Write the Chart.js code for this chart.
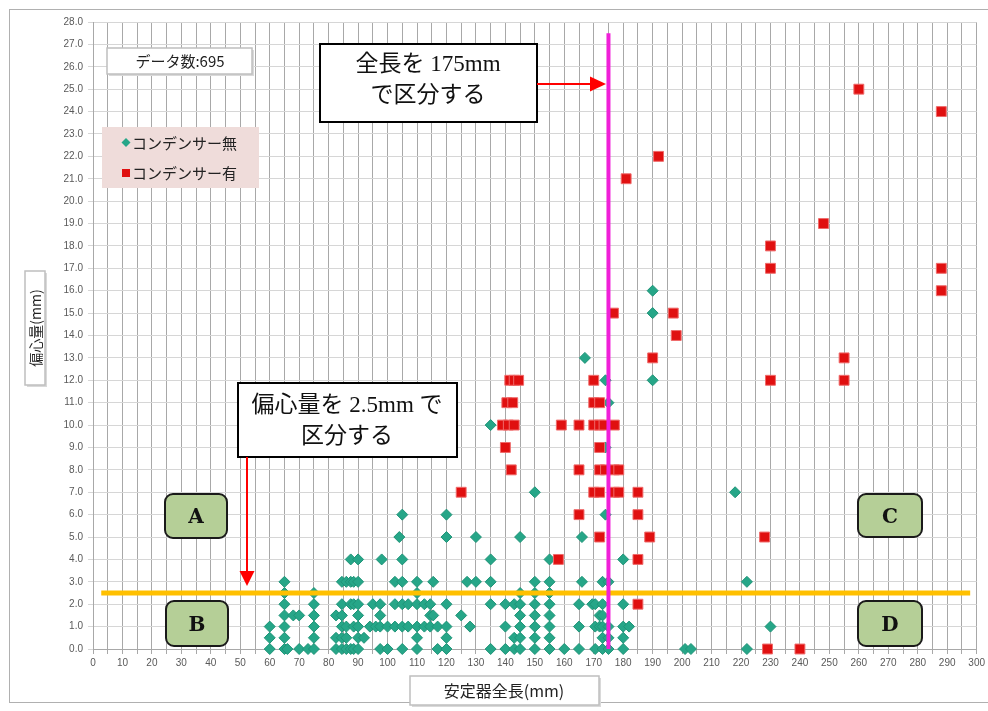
<!DOCTYPE html>
<html>
<head>
<meta charset="utf-8">
<script src="https://cdn.jsdelivr.net/npm/chart.js@4/dist/chart.umd.min.js"></script>
<style>
  body { margin: 0; background: #fff; }
  canvas { display: block; }
</style>
</head>
<body>
<canvas id="chart" width="988" height="711"></canvas>
<script>
// series names
const seriesNames = ['コンデンサー無', 'コンデンサー有'];

// [全長(mm), [偏心量(mm), ...]], column by column
const noCondenser = [
	[60, [0, 0.5, 1]],
	[65, [0, 0.5, 1, 1.5, 2, 2.5, 3]],
	[66, [0]],
	[68, [1.5]],
	[70, [0, 1.5]],
	[73, [0]],
	[75, [0, 0.5, 1, 1.5, 2, 2.5]],
	[82.5, [0, 0.5, 1.5]],
	[84.5, [0, 0.5, 1, 1.5, 2, 3]],
	[86, [0, 0.5, 1, 3]],
	[87.5, [0, 2, 3, 4]],
	[88.5, [0, 1, 2, 3]],
	[90, [0, 0.5, 1, 1.5, 2, 3, 4]],
	[92, [0.5]],
	[94, [1]],
	[95, [2]],
	[96, [1]],
	[97.5, [0, 1, 1.5, 2]],
	[98, [4]],
	[100, [0, 1]],
	[102.5, [1, 2, 3]],
	[104, [5]],
	[105, [0, 1, 2, 3, 4, 6]],
	[107, [1, 2]],
	[110, [0, 0.5, 1, 2, 2.5, 3]],
	[112.5, [1, 2]],
	[114.5, [1, 1.5, 2]],
	[115.5, [1.5, 3]],
	[117, [0, 1]],
	[120, [0, 0.5, 1, 2, 5, 6]],
	[125, [1.5]],
	[127, [3]],
	[128, [1]],
	[130, [3, 5]],
	[135, [0, 2, 3, 4, 10]],
	[140, [0, 1, 2]],
	[143, [0, 0.5, 2]],
	[145, [0, 0.5, 1, 1.5, 2, 2.5, 5]],
	[150, [0, 0.5, 1, 1.5, 2, 2.5, 3, 7]],
	[155, [0, 0.5, 1, 1.5, 2, 2.5, 3, 4]],
	[160, [0]],
	[165, [0, 1, 2]],
	[166, [3, 5]],
	[167, [13]],
	[169.5, [2]],
	[170.5, [0, 1, 2]],
	[172, [1, 1.5]],
	[173, [0, 0.5, 1, 1.5, 2, 3]],
	[174, [6, 9, 12]],
	[175, [0, 0.5, 1, 3, 11]],
	[180, [0, 0.5, 1, 2, 4]],
	[182, [1]],
	[190, [12, 15, 16]],
	[201, [0]],
	[203, [0]],
	[218, [7]],
	[222, [0, 3]],
	[230, [1]],
];

const withCondenser = [
	[125, [7]],
	[139, [10]],
	[140, [9]],
	[140.5, [11]],
	[141, [10]],
	[141.5, [12]],
	[142, [8]],
	[142.5, [11]],
	[143, [10, 12]],
	[144.5, [12]],
	[158, [4]],
	[159, [10]],
	[165, [6, 8, 10]],
	[170, [7, 10, 11, 12]],
	[172, [5, 7, 8, 9, 10, 11]],
	[173.5, [10]],
	[174, [8]],
	[176.7, [15]],
	[177, [7, 8, 10]],
	[178.5, [7, 8]],
	[181, [21]],
	[185, [2, 4, 6, 7]],
	[189, [5]],
	[190, [13]],
	[192, [22]],
	[197, [15]],
	[198, [14]],
	[228, [5]],
	[229, [0]],
	[230, [12, 17, 18]],
	[240, [0]],
	[248, [19]],
	[255, [12, 13]],
	[260, [25]],
	[288, [16, 17, 24]],
];

// split lines
const splitLength = 175;          // 全長
const splitLengthTop = 27.5;
const splitOffset = 2.5;          // 偏心量
const splitOffsetRange = [2.8, 297.8];

const dataCount = 695;

const TEAL = '#26a688';
const RED = '#e01010';

function flatten(cols) {
	const out = [];
	cols.forEach(c => c[1].forEach(y => out.push({x: c[0], y: y})));
	return out;
}

function arrow(ctx, x1, y1, x2, y2, head, half) {
	const a = Math.atan2(y2 - y1, x2 - x1);
	const bx = x2 - head * Math.cos(a), by = y2 - head * Math.sin(a);
	ctx.strokeStyle = '#ff0000';
	ctx.fillStyle = '#ff0000';
	ctx.lineWidth = 2;
	ctx.beginPath();
	ctx.moveTo(x1, y1);
	ctx.lineTo(bx, by);
	ctx.stroke();
	ctx.beginPath();
	ctx.moveTo(x2, y2);
	ctx.lineTo(bx + half * Math.sin(a), by - half * Math.cos(a));
	ctx.lineTo(bx - half * Math.sin(a), by + half * Math.cos(a));
	ctx.closePath();
	ctx.fill();
}

function noteBox(ctx, x, y, w, h, lines, cx, ys) {
	ctx.fillStyle = '#fff';
	ctx.fillRect(x, y, w, h);
	ctx.strokeStyle = '#000';
	ctx.lineWidth = 2;
	ctx.strokeRect(x, y, w, h);
	ctx.fillStyle = '#111';
	ctx.font = '23px "Liberation Serif", "Noto Sans CJK JP", serif';
	ctx.textAlign = 'center';
	ctx.textBaseline = 'middle';
	lines.forEach((t, i) => ctx.fillText(t, cx, ys[i]));
}

function zoneBox(ctx, x, y, w, h, letter) {
	ctx.beginPath();
	ctx.roundRect(x, y, w, h, 8);
	ctx.fillStyle = '#b5cf97';
	ctx.fill();
	ctx.strokeStyle = '#1a1a1a';
	ctx.lineWidth = 2;
	ctx.stroke();
	ctx.fillStyle = '#111';
	ctx.font = 'bold 20px "DejaVu Serif", serif';
	ctx.textAlign = 'center';
	ctx.textBaseline = 'middle';
	ctx.fillText(letter, x + w / 2, y + h / 2 + 2);
}

function greyBox(ctx, x, y, w, h) {
	ctx.fillStyle = '#d9d9d9';
	ctx.fillRect(x + 2, y + 2, w, h);
	ctx.fillStyle = '#fff';
	ctx.fillRect(x, y, w, h);
	ctx.strokeStyle = '#bfbfbf';
	ctx.lineWidth = 1.5;
	ctx.strokeRect(x, y, w, h);
}

const decor = {
	id: 'decor',
	beforeDraw(chart) {
		const ctx = chart.ctx;
		ctx.save();
		ctx.fillStyle = '#fff';
		ctx.fillRect(0, 0, chart.width, chart.height);
		ctx.strokeStyle = '#b0b0b0';
		ctx.lineWidth = 1;
		ctx.strokeRect(9.5, 9.5, chart.width, chart.height - 18);
		ctx.restore();
	},
	afterDraw(chart) {
		const ctx = chart.ctx;
		const xs = chart.scales.x, ys = chart.scales.y;
		ctx.save();

		// split lines
		ctx.lineCap = 'butt';
		ctx.strokeStyle = '#ffc000';
		ctx.lineWidth = 5;
		ctx.beginPath();
		ctx.moveTo(xs.getPixelForValue(splitOffsetRange[0]), ys.getPixelForValue(splitOffset));
		ctx.lineTo(xs.getPixelForValue(splitOffsetRange[1]), ys.getPixelForValue(splitOffset));
		ctx.stroke();

		ctx.strokeStyle = '#f01fd8';
		ctx.lineWidth = 4;
		ctx.beginPath();
		ctx.moveTo(xs.getPixelForValue(splitLength), ys.getPixelForValue(splitLengthTop));
		ctx.lineTo(xs.getPixelForValue(splitLength), ys.getPixelForValue(0));
		ctx.stroke();

		// data count
		greyBox(ctx, 107, 48, 145, 26);
		ctx.fillStyle = '#222';
		ctx.font = '15px "Noto Sans CJK JP", sans-serif';
		ctx.textAlign = 'center';
		ctx.textBaseline = 'middle';
		ctx.fillText('データ数:' + dataCount, 180, 61);

		// legend
		ctx.fillStyle = '#efdcda';
		ctx.fillRect(102, 127, 157, 61);
		ctx.fillStyle = TEAL;
		ctx.beginPath();
		ctx.moveTo(126, 138); ctx.lineTo(130.5, 142.5); ctx.lineTo(126, 147); ctx.lineTo(121.5, 142.5);
		ctx.closePath();
		ctx.fill();
		ctx.fillStyle = RED;
		ctx.fillRect(122, 169, 8, 8);
		ctx.fillStyle = '#222';
		ctx.font = '15px "Noto Sans CJK JP", sans-serif';
		ctx.textAlign = 'left';
		ctx.fillText(seriesNames[0], 132, 143);
		ctx.fillText(seriesNames[1], 132, 173);

		// notes and arrows
		noteBox(ctx, 320, 44, 217, 78, ['全長を 175mm', 'で区分する'], 428, [65, 96]);
		arrow(ctx, 537, 84, 606, 84, 16, 7.5);
		noteBox(ctx, 238, 383, 219, 74, ['偏心量を 2.5mm で', '区分する'], 347, [406, 437]);
		arrow(ctx, 247, 457, 247, 586, 15, 7.5);

		// zones
		zoneBox(ctx, 165, 494, 62, 44, 'A');
		zoneBox(ctx, 166, 601, 62, 45, 'B');
		zoneBox(ctx, 858, 494, 64, 43, 'C');
		zoneBox(ctx, 858, 601, 64, 45, 'D');

		// axis titles
		greyBox(ctx, 410, 676, 189, 29);
		ctx.fillStyle = '#222';
		ctx.font = '16px "Noto Sans CJK JP", sans-serif';
		ctx.textAlign = 'center';
		ctx.textBaseline = 'middle';
		ctx.fillText('安定器全長(mm)', 504, 691);

		greyBox(ctx, 25, 271, 20, 114);
		ctx.fillStyle = '#222';
		ctx.font = '14px "Noto Sans CJK JP", sans-serif';
		ctx.textAlign = 'center';
		ctx.textBaseline = 'middle';
		ctx.translate(35, 328);
		ctx.rotate(-Math.PI / 2);
		ctx.fillText('偏心量(mm)', 0, 1);

		ctx.restore();
	}
};

const tickFont = {family: '"Liberation Sans", Arial, sans-serif', size: 10};

new Chart('chart', {
	type: 'scatter',
	data: {
		datasets: [
			{
				label: seriesNames[1],
				data: flatten(withCondenser),
				pointStyle: 'rect',
				pointRadius: 7,
				pointHoverRadius: 7,
				backgroundColor: RED,
				borderColor: '#ef6a6a',
				borderWidth: 1,
				clip: false,
			},
			{
				label: seriesNames[0],
				data: flatten(noCondenser),
				pointStyle: 'rectRot',
				pointRadius: 5.5,
				pointHoverRadius: 5.5,
				backgroundColor: TEAL,
				borderColor: '#1f9478',
				borderWidth: 1,
				clip: false,
			},
		],
	},
	options: {
		responsive: false,
		animation: false,
		events: [],
		layout: {padding: {left: 0, top: 22, right: 8, bottom: 0}},
		plugins: {
			legend: {display: false},
			tooltip: {enabled: false},
		},
		scales: {
			x: {
				type: 'linear',
				min: 0,
				max: 300,
				afterFit: s => { s.height = 62; },
				ticks: {
					stepSize: 5,
					autoSkip: false,
					maxRotation: 0,
					padding: 3,
					color: '#595959',
					font: tickFont,
					callback: v => (v % 10 === 0 ? v : ''),
				},
				grid: {color: '#a8a8a8', tickLength: 5},
				border: {color: '#a8a8a8'},
			},
			y: {
				min: 0,
				max: 28,
				afterFit: s => { s.width = 93; },
				ticks: {
					stepSize: 1,
					padding: 5,
					color: '#595959',
					font: tickFont,
					callback: v => v.toFixed(1),
				},
				grid: {color: '#d6d6d6', tickLength: 5},
				border: {color: '#a8a8a8'},
			},
		},
	},
	plugins: [decor],
});
</script>
</body>
</html>
